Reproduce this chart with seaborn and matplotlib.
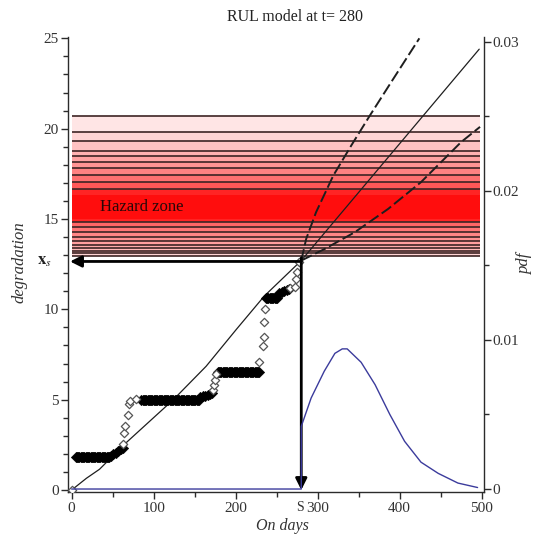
import numpy as np
import pandas as pd
import matplotlib
matplotlib.use("Agg")
import matplotlib.pyplot as plt
import seaborn as sns

# ---------------------------------------------------------------- data
# observed degradation: flat stretches of measurements (filled markers)
plateau_start = [5, 85, 178, 237]
plateau_end = [46, 156, 229, 251]
plateau_level = [1.82, 4.97, 6.55, 10.62]

# slowly rising measurements between the flat stretches (filled markers)
ramp_t = [48, 51, 54, 57, 60, 62, 157, 160, 163, 166, 169, 171, 253, 256, 259, 262, 265]
ramp_d = [1.90, 1.97, 2.05, 2.15, 2.25, 2.35, 5.15, 5.20, 5.22, 5.25, 5.30, 5.35,
          10.90, 10.95, 11.00, 11.05, 11.10]

# jump measurements (open markers)
jump_t = [0, 63, 63.5, 65.5, 68.5, 70, 71.5, 78, 172, 173, 174.5, 175.5,
          229, 233, 234, 235, 236, 266, 272, 274, 274.5, 277]
jump_d = [0, 2.55, 3.15, 3.55, 4.13, 4.78, 4.95, 5.02, 5.55, 5.83, 6.10, 6.40,
          7.09, 7.96, 8.46, 9.30, 10.04, 11.20, 11.26, 11.67, 12.07, 12.60]

# fitted degradation path and its prediction bounds
fit_t = [0, 18, 34, 66, 124, 164, 201, 235, 280, 428, 497]
fit_d = [0, 0.65, 1.15, 2.6, 5.0, 6.85, 8.9, 10.74, 12.7, 20.68, 24.4]

upper_t = [280, 286, 298, 319, 341, 363, 390, 424]
upper_d = [12.7, 13.9, 15.37, 17.4, 19.07, 20.68, 22.6, 25.0]

lower_t = [280, 308, 345, 386, 426, 475, 498]
lower_d = [12.7, 13.33, 14.26, 15.56, 17.04, 19.26, 20.1]

# density of the remaining useful life
pdf_t = [0, 280, 280, 292, 308, 321, 330, 336, 353, 370, 388, 406, 426, 447, 471, 495]
pdf_v = [0, 0, 0.0042, 0.0061, 0.0079, 0.0091, 0.0094, 0.0094, 0.0085, 0.0070,
         0.0050, 0.0032, 0.0018, 0.00105, 0.0004, 0.0001]

# hazard zone: band edges (top to bottom) and shading of each band
band_edges = [20.68, 19.82, 19.29, 18.79, 18.48, 18.18, 17.82, 17.44, 17.07, 16.67,
              16.35, 15.0, 14.85, 14.54, 14.26, 14.02, 13.79, 13.57, 13.39, 13.24,
              13.11, 12.96]
band_alpha = [0.10, 0.17, 0.24, 0.30, 0.36, 0.42, 0.49, 0.56, 0.66, 0.86,
              0.95, 0.86, 0.60, 0.54, 0.48, 0.43, 0.38, 0.33, 0.28, 0.23, 0.17]
band_lines = [e for e in band_edges if e not in (16.35, 15.0)]

threshold = 12.65
t_now = 280

x_ticks = [0, 100, 200, 300, 400, 500]
y_ticks = [0, 5, 10, 15, 20, 25]
pdf_ticks = [0, 0.01, 0.02, 0.03]
pdf_tick_labels = ["0", "0.01", "0.02", "0.03"]

# ---------------------------------------------------------------- style
sns.set_theme(style="white")
plt.rcParams["font.family"] = ["Liberation Serif", "DejaVu Serif"]
plt.rcParams["mathtext.fontset"] = "stix"

ink = "#2b2b2b"
fig = plt.figure(figsize=(5.5, 5.35), dpi=100)
ax = fig.add_axes([68.3 / 550, 43 / 535, 416 / 550, 455.3 / 535])
ax.set_facecolor("white")

# hazard zone bands
for top, bottom, a in zip(band_edges[:-1], band_edges[1:], band_alpha):
    ax.fill_between([0, 498], bottom, top, color=(1.0, 0.0, 0.0), alpha=a, lw=0, zorder=1)
ax.hlines(band_lines, 0, 498, color="#3d2424", lw=1.2, zorder=2)
ax.text(34, 15.65, "Hazard zone", fontsize=12, color="#2a0808", va="center", ha="left", zorder=5)

# observations
flat_t, flat_d = [], []
for s, e, lev in zip(plateau_start, plateau_end, plateau_level):
    ts = np.arange(s, e + 0.1, 1.5)
    flat_t.extend(ts)
    flat_d.extend([lev] * len(ts))
filled = pd.DataFrame({"t": flat_t + ramp_t, "d": flat_d + ramp_d})
sns.scatterplot(data=filled, x="t", y="d", ax=ax, marker="D", s=28, color="black",
                edgecolor="black", linewidth=0.4, zorder=4, legend=False)
jumps = pd.DataFrame({"t": jump_t, "d": jump_d})
sns.scatterplot(data=jumps, x="t", y="d", ax=ax, marker="D", s=18, facecolor="white",
                edgecolor="#555555", linewidth=0.9, zorder=4, legend=False)

# fitted path and bounds
sns.lineplot(x=fit_t, y=fit_d, ax=ax, color="#1e1e1e", lw=0.9, sort=False,
             estimator=None, zorder=3)
for bt, bd in ((upper_t, upper_d), (lower_t, lower_d)):
    sns.lineplot(x=bt, y=bd, ax=ax, color="#1e1e1e", lw=1.4, sort=False,
                 estimator=None, zorder=3, dashes=False).lines[-1].set_dashes((6, 2))

# arrows from the crossing point to both axes
ax.annotate("", xy=(-2, threshold), xytext=(t_now, threshold),
            arrowprops=dict(arrowstyle="-|>", lw=2.0, color="black",
                            mutation_scale=17, shrinkA=0, shrinkB=0), zorder=6)
ax.annotate("", xy=(t_now, 0), xytext=(t_now, threshold + 0.2),
            arrowprops=dict(arrowstyle="-|>", lw=2.0, color="black",
                            mutation_scale=17, shrinkA=0, shrinkB=0), zorder=6)

ax.set_xlim(-4.1, 503.2)
ax.set_ylim(-0.11, 25.09)
ax.set_xticks(x_ticks)
ax.set_xticks([50, 150, 250, 350, 450], minor=True)
ax.set_yticks(y_ticks)
ax.set_yticks([v for v in range(0, 26) if v % 5], minor=True)
ax.set_xlabel("")
ax.set_ylabel("")
ax.tick_params(axis="both", which="major", direction="out", length=5, width=1,
               color=ink, labelsize=11, labelcolor="#333333", pad=2,
               bottom=True, left=True)
ax.tick_params(axis="both", which="minor", direction="out", length=3.5, width=1,
               color=ink, bottom=True, left=True)
for side in ("top", "right"):
    ax.spines[side].set_visible(False)
for side in ("left", "bottom"):
    ax.spines[side].set_color(ink)
    ax.spines[side].set_linewidth(1.0)

ax.annotate(r"$\mathbf{x}_{s}$", xy=(0, threshold), xycoords=("axes fraction", "data"),
            xytext=(-12, 0), textcoords="offset points", ha="right", va="center",
            fontsize=12, color="#222222")
ax.annotate("S", xy=(283, 0), xycoords=("data", "axes fraction"),
            xytext=(0, -6.5), textcoords="offset points", ha="right", va="top",
            fontsize=10, color="#333333")

# density on the secondary axis
ax2 = ax.twinx()
sns.lineplot(x=pdf_t, y=pdf_v, ax=ax2, color="#3b3b9c", lw=1.0, sort=False,
             estimator=None, zorder=3)
ax2.set_ylim(-0.0002, 0.03034)
ax2.set_yticks(pdf_ticks)
ax2.set_yticklabels(pdf_tick_labels)
ax2.set_yticks([0.005, 0.015, 0.025], minor=True)
ax2.set_ylabel("")
ax2.tick_params(axis="y", which="major", direction="out", length=5, width=1,
                color=ink, labelsize=11, labelcolor="#333333", pad=1, right=True)
ax2.tick_params(axis="y", which="minor", direction="out", length=3.5, width=1,
                color=ink, right=True)
for side in ("top", "left", "bottom"):
    ax2.spines[side].set_visible(False)
ax2.spines["right"].set_color(ink)
ax2.spines["right"].set_linewidth(1.0)
ax2.grid(False)
ax.grid(False)

# titles and axis names
fig.text(295 / 550, 1 - 17 / 535, "RUL model at t= 280", ha="center", va="center",
         fontsize=11.5, color="#222222")
fig.text(20 / 550, 1 - 262 / 535, "degradation", rotation=90, ha="center",
         va="center", fontsize=12, style="italic", color="#333333")
fig.text(525 / 550, 1 - 263 / 535, "pdf", rotation=90, ha="center",
         va="center", fontsize=12, style="italic", color="#333333")
fig.text(282 / 550, 1 - 533.5 / 535, "On days", ha="center", va="bottom",
         fontsize=11.5, style="italic", color="#333333")

fig.savefig("out.png", dpi=100, facecolor="white")
